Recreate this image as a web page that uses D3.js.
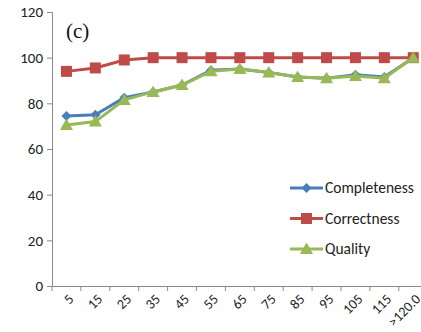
<!DOCTYPE html>
<html>
<head>
<meta charset="utf-8">
<script src="https://cdn.jsdelivr.net/npm/d3@7"></script>
<style>
  body { margin: 0; background: #fff; }
  svg { display: block; }
</style>
</head>
<body>
<svg id="chart"></svg>
<script>
// x categories (distance bins)
const categories = ["5", "15", "25", "35", "45", "55", "65", "75", "85", "95", "105", "115", ">120.0"];
const completeness = [74.5, 75, 82.5, 85, 88, 94.5, 95, 93.5, 91.5, 91, 92.5, 91.5, 100];
const correctness  = [94, 95.5, 99, 100, 100, 100, 100, 100, 100, 100, 100, 100, 100];
const quality      = [70.5, 72, 81.5, 85, 88, 94, 95, 93.5, 91.5, 91, 92, 91, 100];
const yTicks = [0, 20, 40, 60, 80, 100, 120];

const series = [
    { name: "Completeness", values: completeness, color: "#4a7ebb", marker: "diamond" },
    { name: "Correctness",  values: correctness,  color: "#be4b48", marker: "square" },
    { name: "Quality",      values: quality,      color: "#98b954", marker: "triangle" }
];

const W = 421, H = 332;
const margin = { top: 12, left: 52, bottom: 46 };

const svg = d3.select("#chart").attr("width", W).attr("height", H);

// plot runs past the right edge of the window, as in the reference
const xscale = d3.scaleBand()
    .domain(categories)
    .range([margin.left, margin.left + 13 * 28.9]);

const yscale = d3.scaleLinear()
    .domain([0, 120])
    .range([H - margin.bottom, margin.top]);

const font = "Calibri, Carlito, 'Liberation Sans', Arial, sans-serif";

// y axis
const yaxis = d3.axisLeft(yscale).tickValues(yTicks).tickSize(5).tickPadding(4);
const yg = svg.append("g")
    .attr("transform", `translate(${margin.left},0)`)
    .call(yaxis);
yg.selectAll("text").style("font-family", font).style("font-size", "15px").attr("fill", "#222");
yg.selectAll("line, path").attr("stroke", "#8a8a8a");

// x axis, ticks between categories
const xaxis = d3.axisBottom(xscale).tickSize(0).tickPadding(0);
const xg = svg.append("g")
    .attr("transform", `translate(0,${yscale(0)})`)
    .call(xaxis);
xg.select("path").attr("stroke", "#8a8a8a");
xg.selectAll("g.tick").each(function(d) {
    const t = d3.select(this);
    t.select("line")
        .attr("x1", -xscale.bandwidth() / 2).attr("x2", -xscale.bandwidth() / 2)
        .attr("y2", 5).attr("stroke", "#8a8a8a");
    t.select("text")
        .attr("text-anchor", "end")
        .attr("dy", 0)
        .attr("transform", "translate(8,14) rotate(-45)")
        .style("font-family", font)
        .style("font-size", "14px")
        .attr("fill", "#222");
});

// panel label
svg.append("text")
    .attr("x", 66).attr("y", 38)
    .style("font-family", "'Liberation Serif', 'Times New Roman', serif")
    .style("font-size", "21px")
    .attr("fill", "#111")
    .text("(c)");

const cx = d => xscale(d) + xscale.bandwidth() / 2;

function drawMarker(g, type, x, y, color) {
    if (type === "diamond") {
        g.append("path")
            .attr("d", `M${x},${y - 5}L${x + 5},${y}L${x},${y + 5}L${x - 5},${y}Z`)
            .attr("fill", color);
    } else if (type === "square") {
        g.append("rect")
            .attr("x", x - 5.5).attr("y", y - 5.5)
            .attr("width", 11).attr("height", 11)
            .attr("fill", color);
    } else {
        g.append("path")
            .attr("d", `M${x},${y - 6.5}L${x + 6.5},${y + 5}L${x - 6.5},${y + 5}Z`)
            .attr("fill", color);
    }
}

const line = d3.line()
    .x((d, i) => cx(categories[i]))
    .y(d => yscale(d));

series.forEach(s => {
    const g = svg.append("g");
    g.append("path")
        .datum(s.values)
        .attr("d", line)
        .attr("fill", "none")
        .attr("stroke", s.color)
        .attr("stroke-width", 3);
    s.values.forEach((v, i) => drawMarker(g, s.marker, cx(categories[i]), yscale(v), s.color));
});

// legend
const legend = svg.append("g").attr("transform", "translate(290,188)");
series.forEach((s, i) => {
    const row = legend.append("g").attr("transform", `translate(0,${i * 30.5})`);
    row.append("line")
        .attr("x1", 0).attr("x2", 33)
        .attr("stroke", s.color).attr("stroke-width", 3);
    drawMarker(row, s.marker, 16.5, 0, s.color);
    row.append("text")
        .attr("x", 35).attr("y", 5)
        .style("font-family", font)
        .style("font-size", "15.5px")
        .attr("fill", "#222")
        .text(s.name);
});
</script>
</body>
</html>
